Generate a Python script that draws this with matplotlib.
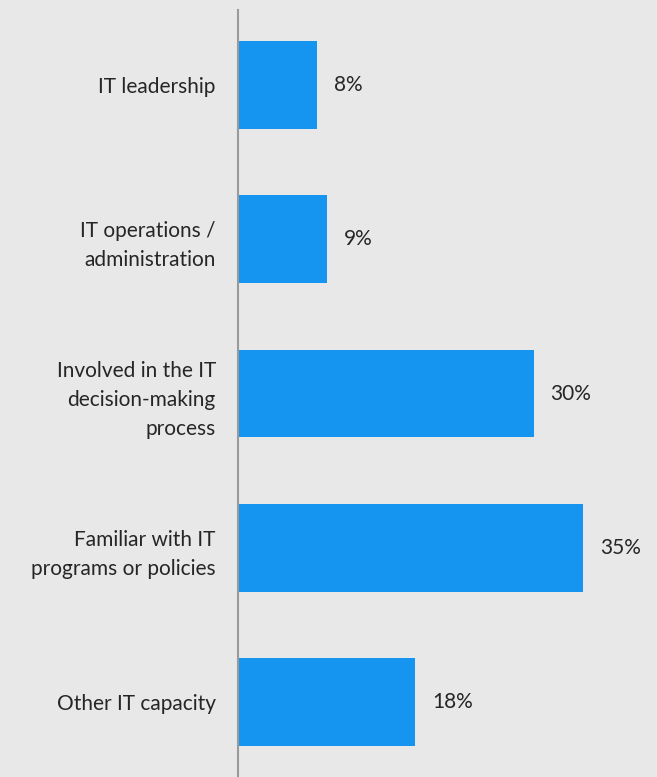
import matplotlib.pyplot as plt

categories = [
    "IT leadership",
    "IT operations /\nadministration",
    "Involved in the IT\ndecision-making\nprocess",
    "Familiar with IT\nprograms or policies",
    "Other IT capacity",
]
shares = [8, 9, 30, 35, 18]

bg = "#e8e8e8"
bar_color = "#1595f0"
text_color = "#262626"

plt.rcParams["font.family"] = ["Lato", "DejaVu Sans"]

fig = plt.figure(figsize=(6.57, 7.77), dpi=100, facecolor=bg)
ax = fig.add_axes([238 / 657, 0, 1 - 238 / 657, 1 - 10 / 777])
ax.set_facecolor(bg)

pos = list(range(len(categories)))
ax.barh(pos, shares, height=0.57, color=bar_color)

# percentage labels just right of each bar
for y, v in zip(pos, shares):
    ax.annotate(f"{v}%", xy=(v, y), xytext=(12, 0), textcoords="offset points",
                va="center", ha="left", fontsize=15, color=text_color)

ax.set_xlim(0, 42.5)
ax.set_ylim(4.486, -0.486)
ax.set_yticks(pos)
ax.set_yticklabels(categories, fontsize=15, color=text_color, linespacing=1.55)
ax.tick_params(axis="y", length=0, pad=16)
ax.set_xticks([])

for side in ["top", "right", "bottom"]:
    ax.spines[side].set_visible(False)
ax.spines["left"].set_color("#9a9a9a")
ax.spines["left"].set_linewidth(1.5)

fig.savefig("out.png", dpi=100, facecolor=bg)
